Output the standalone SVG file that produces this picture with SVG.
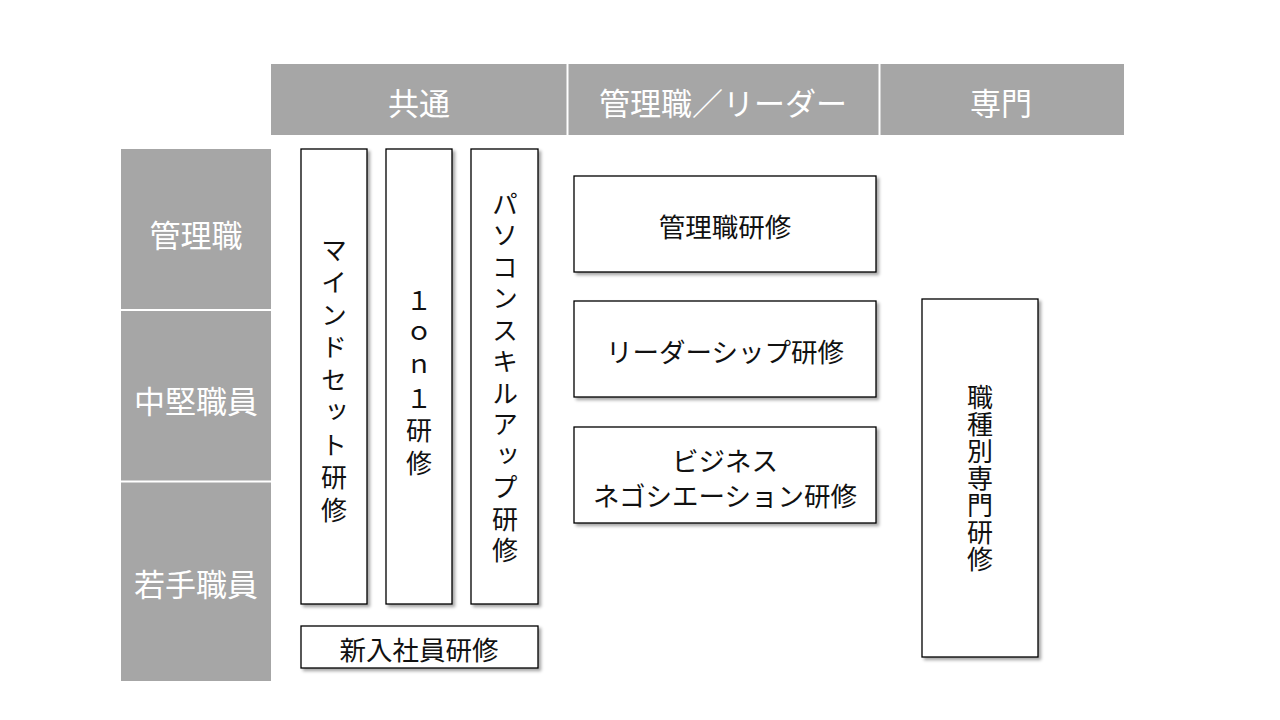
<svg xmlns="http://www.w3.org/2000/svg" width="1280" height="720" viewBox="0 0 1280 720">
<defs>
<filter id="sh" x="-10%" y="-10%" width="130%" height="130%">
<feDropShadow dx="2.5" dy="2.5" stdDeviation="1.5" flood-color="#000" flood-opacity="0.35"/>
</filter>
<style>
.hdr{fill:#a6a6a6;}
.sep{stroke:#ffffff;stroke-width:2;}
.ht{font-family:"Noto Sans CJK JP","Noto Sans CJK SC",sans-serif;font-size:31px;fill:#ffffff;text-anchor:middle;dominant-baseline:central;}
.box{fill:#ffffff;stroke:#000000;stroke-width:1.3;filter:url(#sh);}
.bt{font-family:"Noto Sans CJK JP","Noto Sans CJK SC",sans-serif;font-size:26.5px;fill:#111111;text-anchor:middle;dominant-baseline:central;}
.vt{font-family:"Noto Sans CJK JP","Noto Sans CJK SC",sans-serif;font-size:26px;fill:#111111;text-anchor:middle;writing-mode:vertical-rl;text-orientation:upright;}
</style>
</defs>
<rect width="1280" height="720" fill="#ffffff"/>

<g id="header">
<rect class="hdr" x="271" y="64" width="853" height="71"/>
<line class="sep" x1="567.5" y1="64" x2="567.5" y2="135"/>
<line class="sep" x1="879.5" y1="64" x2="879.5" y2="135"/>
<text class="ht" x="419" y="101">共通</text>
<text class="ht" x="723" y="101">管理職／リーダー</text>
<text class="ht" x="1001" y="101">専門</text>
</g>

<g id="levels">
<rect class="hdr" x="121" y="149" width="150" height="532"/>
<line class="sep" x1="121" y1="310" x2="271" y2="310"/>
<line class="sep" x1="121" y1="481.5" x2="271" y2="481.5"/>
<text class="ht" x="196" y="233">管理職</text>
<text class="ht" x="196" y="399">中堅職員</text>
<text class="ht" x="196" y="582">若手職員</text>
</g>

<g id="mindset">
<rect class="box" x="301" y="149" width="66" height="455"/>
<text class="vt" x="334" y="383" style="letter-spacing:6.5px">マインドセット研修</text>
</g>
<g id="one-on-one">
<rect class="box" x="386" y="149" width="66" height="455"/>
<text class="vt" x="419" y="385" style="letter-spacing:6.5px">１ｏｎ１研修</text>
</g>
<g id="pc-skill">
<rect class="box" x="471" y="149" width="67" height="455"/>
<text class="vt" x="505" y="380" style="letter-spacing:5.5px">パソコンスキルアップ研修</text>
</g>
<g id="new-hire">
<rect class="box" x="301" y="626" width="237" height="42"/>
<text class="bt" x="419" y="648">新入社員研修</text>
</g>

<g id="manager">
<rect class="box" x="574" y="176" width="302" height="96"/>
<text class="bt" x="725" y="225">管理職研修</text>
</g>
<g id="leadership">
<rect class="box" x="574" y="301" width="302" height="96"/>
<text class="bt" x="725" y="350">リーダーシップ研修</text>
</g>
<g id="negotiation">
<rect class="box" x="574" y="427" width="302" height="96"/>
<text class="bt" x="725" y="459">ビジネス</text>
<text class="bt" x="725" y="494">ネゴシエーション研修</text>
</g>

<g id="specialist">
<rect class="box" x="922" y="299" width="116" height="358"/>
<text class="vt" x="980" y="479" style="letter-spacing:1px">職種別専門研修</text>
</g>

<g id="connectors"></g>
</svg>
